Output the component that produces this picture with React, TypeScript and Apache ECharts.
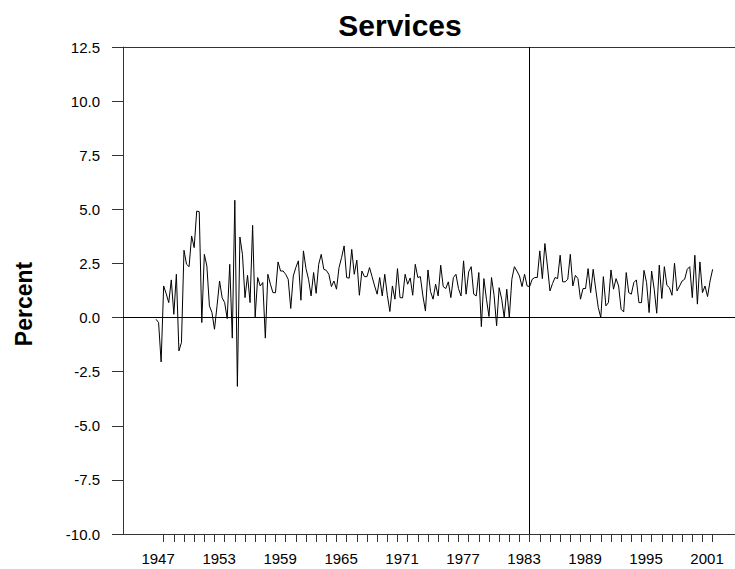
import React, { useEffect, useRef } from "react";
import * as echarts from "echarts";

// Quarterly growth of services, 1947Q1 .. 2001Q4 (percent)
const startYear = 1947;
const services: number[] = [
  -0.08, -0.23, -2.05, 1.46, 1.1, 0.69, 1.74, 0.15, 2.0, -1.54,
  -1.15, 3.11, 2.46, 2.35, 3.77, 3.23, 4.92, 4.89, -0.23, 2.92,
  2.38, 0.54, 0.23, -0.54, 0.54, 1.69, 0.92, 0.69, -0.05, 2.46,
  -0.95, 5.42, -3.18, 3.72, 2.92, 0.92, 1.95, 0.69, 4.26, 0.03,
  1.85, 1.46, 1.62, -0.95, 2.0, 1.54, 1.15, 1.15, 2.57, 2.15,
  2.15, 2.0, 1.77, 0.42, 1.92, 2.31, 2.62, 0.8, 3.08, 2.26,
  1.77, 1.0, 2.08, 1.12, 2.46, 2.92, 2.23, 2.18, 2.0, 1.43,
  1.69, 1.31, 2.31, 2.77, 3.31, 1.85, 1.82, 3.15, 2.0, 2.65,
  1.03, 2.15, 1.89, 1.89, 2.31, 1.89, 1.46, 1.08, 1.85, 1.0,
  2.0, 1.03, 0.28, 1.46, 0.85, 2.26, 0.92, 0.91, 2.0, 1.54,
  1.83, 1.03, 2.46, 1.85, 1.89, 1.0, 0.3, 2.2, 1.2, 0.85,
  1.54, 1.0, 2.42, 1.43, 1.34, 1.65, 0.92, 1.85, 2.0, 1.34,
  1.0, 2.62, 1.08, 2.11, 2.35, 1.08, 1.0, 2.08, -0.42, 1.8,
  0.85, 0.05, 1.85, 1.03, -0.38, 1.38, 0.85, 0.0, 1.31, 0.0,
  1.77, 2.35, 2.15, 1.92, 1.43, 2.0, 1.46, 1.43, 1.77, 1.85,
  1.85, 3.08, 1.8, 3.42, 2.38, 1.23, 1.57, 1.85, 1.8, 2.88,
  1.65, 1.65, 1.77, 2.92, 1.46, 1.95, 1.8, 0.85, 1.34, 1.34,
  2.26, 1.15, 2.23, 1.31, 0.46, 0.0, 1.89, 0.54, 0.69, 2.2,
  1.31, 1.8, 1.46, 0.38, 0.26, 2.08, 1.15, 1.08, 1.62, 1.74,
  0.69, 0.69, 2.18, 1.62, 0.23, 2.15, 1.31, 0.2, 2.42, 0.88,
  2.35, 1.49, 1.38, 1.03, 2.51, 1.23, 1.46, 1.69, 1.77, 2.23,
  2.35, 0.92, 2.88, 0.62, 2.57, 1.15, 1.46, 0.97, 1.69, 2.23,
];

const labelYears = [1947, 1953, 1959, 1965, 1971, 1977, 1983, 1989, 1995, 2001];
const tickYears = Array.from({ length: 55 }, (_, k) => 1948 + k);
const breakYear = 1984;
const yMin = -10;
const yMax = 12.5;
const yStep = 2.5;
const xMin = 1944;
const xMax = 2004.2;

const FONT = "'Liberation Sans', Arial, Helvetica, sans-serif";
const AXIS = "#333";

export default function App() {
  const ref = useRef<HTMLDivElement>(null);
  useEffect(() => {
    if (!ref.current) return;
    const chart = echarts.init(ref.current, undefined, { renderer: "svg" });
    const data = services.map((v, i) => [startYear + 0.25 * (i + 1), v]);
    chart.setOption({
      animation: false,
      backgroundColor: "#fff",
      textStyle: { fontFamily: FONT },
      grid: { left: 123, right: 0, top: 47, bottom: 35 },
      graphic: [
        {
          type: "text",
          x: 400,
          y: 25,
          style: {
            text: "Services",
            align: "center",
            verticalAlign: "middle",
            font: `bold 30px ${FONT}`,
            fill: "#000",
          },
        },
        {
          type: "text",
          x: 24,
          y: 304,
          rotation: Math.PI / 2,
          style: {
            text: "Percent",
            align: "center",
            verticalAlign: "middle",
            font: `bold 23px ${FONT}`,
            fill: "#000",
          },
        },
      ],
      xAxis: [
        {
          type: "value",
          min: xMin,
          max: xMax,
          position: "bottom",
          splitLine: { show: false },
          axisLine: { show: true, onZero: false, lineStyle: { color: AXIS, width: 1 } },
          axisTick: {
            show: true,
            inside: false,
            length: 8,
            customValues: tickYears,
            lineStyle: { color: AXIS, width: 1 },
          },
          axisLabel: {
            show: true,
            customValues: labelYears.map((y) => y + 0.45),
            formatter: (v: number) => String(Math.floor(v)),
            margin: 17,
            fontSize: 15,
            color: "#000",
            fontFamily: FONT,
          },
        },
        {
          type: "value",
          min: xMin,
          max: xMax,
          position: "top",
          splitLine: { show: false },
          axisLine: { show: true, onZero: false, lineStyle: { color: AXIS, width: 1 } },
          axisTick: { show: false },
          axisLabel: { show: false },
        },
      ],
      yAxis: {
        type: "value",
        min: yMin,
        max: yMax,
        interval: yStep,
        splitLine: { show: false },
        axisLine: { show: true, onZero: false, lineStyle: { color: AXIS, width: 1 } },
        axisTick: { show: true, length: 11, lineStyle: { color: AXIS, width: 1 } },
        axisLabel: {
          margin: 23,
          fontSize: 15,
          color: "#000",
          fontFamily: FONT,
          formatter: (v: number) => v.toFixed(1),
        },
      },
      series: [
        {
          type: "line",
          xAxisIndex: 0,
          data,
          showSymbol: false,
          symbol: "none",
          lineStyle: { color: "#000", width: 1 },
          silent: true,
          markLine: {
            silent: true,
            symbol: "none",
            label: { show: false },
            lineStyle: { color: "#000", width: 1, type: "solid" },
            data: [{ yAxis: 0 }, { xAxis: breakYear }],
          },
        },
      ],
    });
    return () => chart.dispose();
  }, []);
  return (
    <div
      ref={ref}
      style={{ position: "absolute", left: 0, top: 0, width: 735, height: 569 }}
    />
  );
}
